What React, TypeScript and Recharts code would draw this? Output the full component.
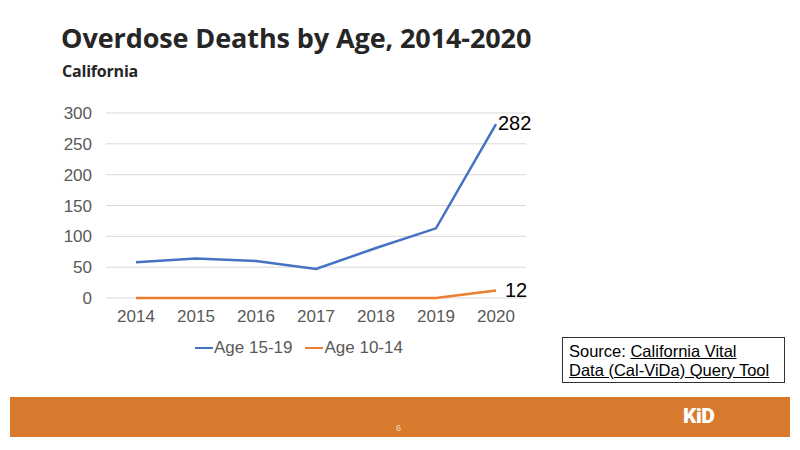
import React from 'react';
import { LineChart, Line, XAxis, YAxis, CartesianGrid, LabelList } from 'recharts';

const years = ['2014', '2015', '2016', '2017', '2018', '2019', '2020'];
const age15to19 = [58, 64, 60, 47, 81, 113, 282];
const age10to14 = [0, 0, 0, 0, 0, 0, 12];
const yTicks = [0, 50, 100, 150, 200, 250, 300];

const data = years.map((year, i) => ({
  year,
  older: age15to19[i],
  younger: age10to14[i],
}));

const BLUE = '#4472C4';
const ORANGE = '#ED7D31';
const FONT = 'Liberation Sans, Arial, sans-serif';
const tickStyle = { fontSize: 17, fill: '#595959', fontFamily: FONT };

// only the last point of each series gets a value label
function lastLabel(dx: number, dy: number) {
  return (props: any) => {
    const { x, y, index, value } = props;
    if (index !== years.length - 1) return null;
    return (
      <text x={x + dx} y={y + dy} fontSize={20} fill="#000" fontFamily={FONT} dominantBaseline="middle">
        {value}
      </text>
    );
  };
}

function LegendItem({ color, label }: { color: string; label: string }) {
  return (
    <span style={{ display: 'inline-flex', alignItems: 'center', marginRight: 13 }}>
      <span style={{ width: 18, height: 2.5, background: color, display: 'inline-block', marginRight: 1 }} />
      {label}
    </span>
  );
}

export default function App() {
  return (
    <div
      style={{
        position: 'absolute',
        left: 0,
        top: 0,
        width: 800,
        height: 450,
        background: '#fff',
        overflow: 'hidden',
        fontFamily: FONT,
      }}
    >
      <div
        style={{
          position: 'absolute',
          left: 61,
          top: 19,
          fontFamily: 'Open Sans, sans-serif',
          fontWeight: 700,
          fontSize: 27,
          color: '#262626',
          letterSpacing: -0.1,
          whiteSpace: 'nowrap',
        }}
      >
        Overdose Deaths by Age, 2014-2020
      </div>
      <div
        style={{
          position: 'absolute',
          left: 62,
          top: 60,
          fontFamily: 'Open Sans, sans-serif',
          fontWeight: 700,
          fontSize: 16,
          letterSpacing: -0.2,
          color: '#262626',
        }}
      >
        California
      </div>

      <div style={{ position: 'absolute', left: 0, top: 0 }}>
        <LineChart width={800} height={450} data={data} margin={{ top: 113, right: 274, bottom: 122, left: 0 }}>
          <CartesianGrid vertical={false} stroke="#d9d9d9" />
          <XAxis
            dataKey="year"
            axisLine={false}
            tickLine={false}
            tickSize={0}
            tickMargin={12}
            height={30}
            tick={tickStyle}
            padding={{ left: 30, right: 30 }}
          />
          <YAxis
            width={106}
            domain={[0, 300]}
            ticks={yTicks}
            axisLine={false}
            tickLine={false}
            tickSize={0}
            tickMargin={14}
            tick={tickStyle}
          />
          <Line dataKey="older" stroke={BLUE} strokeWidth={2.5} dot={false} isAnimationActive={false}>
            <LabelList dataKey="older" content={lastLabel(2, 1)} />
          </Line>
          <Line dataKey="younger" stroke={ORANGE} strokeWidth={2.5} dot={false} isAnimationActive={false}>
            <LabelList dataKey="younger" content={lastLabel(9, 1)} />
          </Line>
        </LineChart>
      </div>

      <div
        style={{
          position: 'absolute',
          left: 195,
          top: 334,
          fontSize: 17,
          color: '#595959',
          whiteSpace: 'nowrap',
        }}
      >
        <LegendItem color={BLUE} label="Age 15-19" />
        <LegendItem color={ORANGE} label="Age 10-14" />
      </div>

      <div
        style={{
          position: 'absolute',
          left: 562,
          top: 337,
          width: 223,
          height: 46,
          border: '1px solid #333',
          boxSizing: 'border-box',
          padding: '4px 0 0 6px',
          fontSize: 16.5,
          lineHeight: '18.5px',
          color: '#000',
          whiteSpace: 'nowrap',
        }}
      >
        Source: <span style={{ textDecoration: 'underline' }}>California Vital</span>
        <br />
        <span style={{ textDecoration: 'underline' }}>Data (Cal-ViDa) Query Tool</span>
      </div>

      <div
        style={{
          position: 'absolute',
          left: 10,
          top: 397,
          width: 780,
          height: 40,
          background: '#D87A2E',
        }}
      >
        <div style={{ position: 'absolute', left: 386, top: 26, fontSize: 9, color: '#f8e0c8' }}>6</div>
        <div
          style={{
            position: 'absolute',
            left: 673,
            top: 7,
            fontSize: 21,
            fontWeight: 900,
            color: '#fff',
            fontFamily: 'Roboto, sans-serif',
            letterSpacing: -0.5,
          }}
        >
          KiD
        </div>
      </div>
    </div>
  );
}
